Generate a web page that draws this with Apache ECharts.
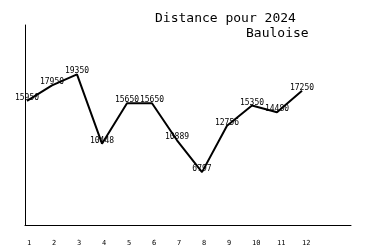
<!DOCTYPE html>
<html><head><meta charset="utf-8">
<script src="https://cdn.jsdelivr.net/npm/echarts@6/dist/echarts.min.js"></script>
<style>html,body{margin:0;padding:0;background:#fff}#c{width:375px;height:250px}</style>
</head><body><div id="c"></div>
<script>
const months = [1,2,3,4,5,6,7,8,9,10,11,12];
const distances = [15950,17950,19350,10448,15650,15650,10889,6797,12756,15350,14480,17250];
const titleLine1 = "Distance pour 2024";
const titleLine2 = "Bauloise";

const chart = echarts.init(document.getElementById('c'), null, {renderer:'canvas'});
const mono = "'DejaVu Sans Mono', monospace";
chart.setOption({
  animation: false,
  backgroundColor: '#fff',
  title: [
    {text: titleLine1, left: 150, top: 7, textStyle:{fontFamily: mono, fontSize: 13, fontWeight:'normal', color:'#000'}},
    {text: titleLine2, left: 241, top: 22, textStyle:{fontFamily: mono, fontSize: 13, fontWeight:'normal', color:'#000'}}
  ],
  grid: {left: 25, right: 24, top: 25, bottom: 25},
  xAxis: {
    type: 'value', min: 0.92, max: 13.96,
    axisLine: {show: true, lineStyle:{color:'#000', width:1}},
    axisTick: {show: false},
    splitLine: {show: false},
    axisLabel: {customValues: months, formatter: v => String(v), align:'left', verticalAlign:'top', margin: 15, fontFamily: mono, fontSize: 7, color:'#000', showMinLabel: true, showMaxLabel: true}
  },
  yAxis: {
    type: 'value', min: 0, max: 25700,
    axisLine: {show: true, lineStyle:{color:'#000', width:1}},
    axisTick: {show: false},
    splitLine: {show: false},
    axisLabel: {show: false}
  },
  series: [{
    type: 'line',
    data: months.map((m,i)=>[m, distances[i]]),
    showSymbol: true,
    symbolSize: 0,
    lineStyle: {color:'#000', width: 2},
    itemStyle: {color:'#000'},
    label: {show: true, position: 'inside', offset:[0,-3], fontFamily: mono, fontSize: 8, color:'#000'}
  }]
});
</script></body></html>
